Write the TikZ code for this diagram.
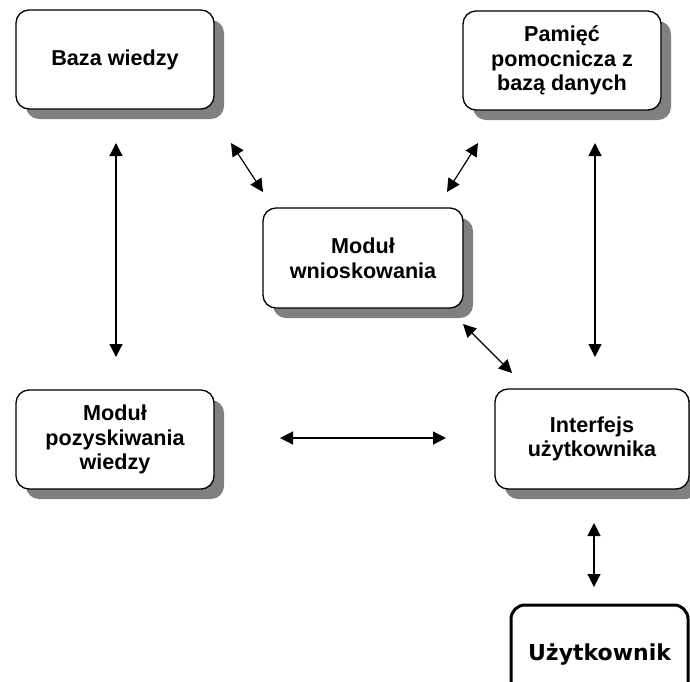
\documentclass[tikz,border=0pt]{standalone}
\usepackage{fontspec}
\setmainfont{Liberation Sans}
\newfontfamily\userfont{DejaVu Sans}
\usetikzlibrary{arrows.meta,shadows}
\tikzstyle{module_box}=[rectangle, draw=black, fill=white, line width=0.65pt,
    rounded corners=6.5pt, align=center, inner sep=2pt,
    font=\bfseries\fontsize{10.8}{12.3}\selectfont,
    drop shadow={shadow xshift=5pt, shadow yshift=-5pt, fill=black!50, opacity=1}]
\tikzstyle{user_box}=[rectangle, draw=black, fill=white, line width=1.5pt,
    rounded corners=7pt, font=\userfont\bfseries\fontsize{11}{13}\selectfont]
\tikzstyle{link_arrow}=[{Triangle[length=6.5pt,width=6.5pt]}-{Triangle[length=6.5pt,width=6.5pt]},
    line width=0.6pt]

\begin{document}
\begin{tikzpicture}[x=0.5pt, y=-0.5pt]
  % Page frame, the user box runs over the lower right edge
  \useasboundingbox (0,0) rectangle (690,681);
  \clip (0,0) rectangle (690,681);

  % Boxes of the system
  \node[module_box, minimum width=99pt, minimum height=49.5pt] (baza) at (115,59.5) {Baza wiedzy};
  \node[module_box, minimum width=99pt, minimum height=49.5pt] (pamiec) at (562,60.5) {Pamięć\\pomocnicza z\\bazą danych};
  \node[module_box, minimum width=100pt, minimum height=50pt] (wnioskowanie) at (363,258) {Moduł\\wnioskowania};
  \node[module_box, minimum width=99pt, minimum height=49.5pt] (pozyskiwanie) at (115,439.5) {Moduł\\pozyskiwania\\wiedzy};
  \node[module_box, minimum width=97pt, minimum height=50pt] (interfejs) at (592,439) {Interfejs\\użytkownika};

  % The user, outside the system
  \node[user_box, minimum width=88.5pt, minimum height=50pt] (uzytkownik) at (599.5,655) {Użytkownik};

  % Free ends of the arrows, they stop short of the boxes
  \coordinate (baza_s) at (116,143);
  \coordinate (pozyskiwanie_n) at (116,357);
  \coordinate (baza_se) at (231,143);
  \coordinate (wnioskowanie_nw) at (263,192);
  \coordinate (pamiec_sw) at (478,143);
  \coordinate (wnioskowanie_ne) at (447,192);
  \coordinate (pamiec_s) at (595,143);
  \coordinate (interfejs_n) at (595,357);
  \coordinate (wnioskowanie_se) at (463,324);
  \coordinate (interfejs_nw) at (512,373);
  \coordinate (pozyskiwanie_e) at (280,438);
  \coordinate (interfejs_w) at (446,438);
  \coordinate (interfejs_s) at (594,523);
  \coordinate (uzytkownik_n) at (594,587);

  % Two way arrows
  \draw[link_arrow] (baza_s) -- (pozyskiwanie_n);
  \draw[link_arrow] (baza_se) -- (wnioskowanie_nw);
  \draw[link_arrow] (pamiec_sw) -- (wnioskowanie_ne);
  \draw[link_arrow] (pamiec_s) -- (interfejs_n);
  \draw[link_arrow] (wnioskowanie_se) -- (interfejs_nw);
  \draw[link_arrow] (pozyskiwanie_e) -- (interfejs_w);
  \draw[link_arrow] (interfejs_s) -- (uzytkownik_n);

\end{tikzpicture}
\end{document}
